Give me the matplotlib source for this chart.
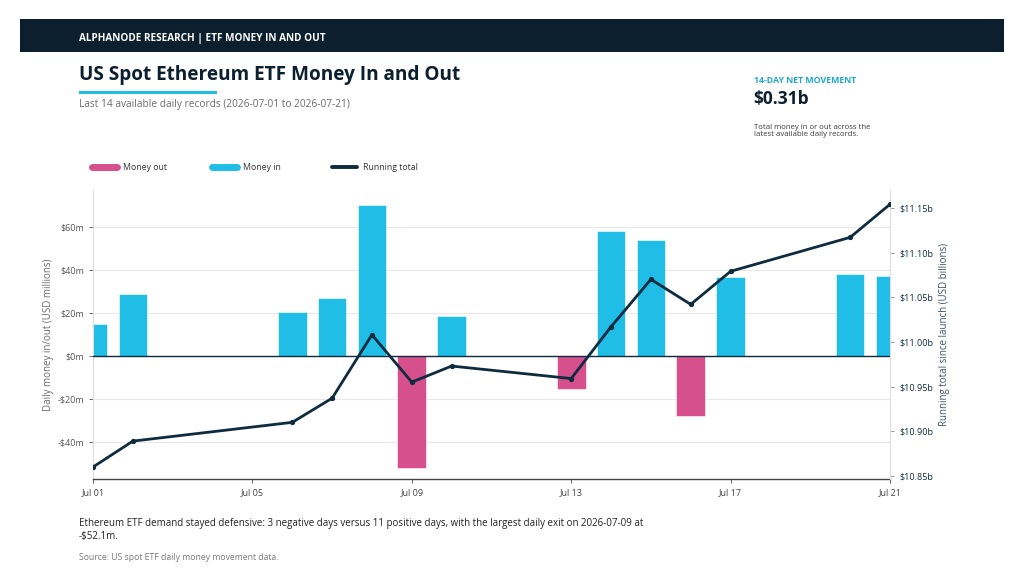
import matplotlib
matplotlib.use("Agg")
import matplotlib.pyplot as plt
import matplotlib.dates as mdates
import numpy as np
import pandas as pd
from matplotlib.patches import Rectangle
from matplotlib.lines import Line2D

plt.rcParams['font.family'] = ['Open Sans', 'DejaVu Sans']

dates = ["2026-07-01", "2026-07-02", "2026-07-06", "2026-07-07", "2026-07-08",
         "2026-07-09", "2026-07-10", "2026-07-13", "2026-07-14", "2026-07-15",
         "2026-07-16", "2026-07-17", "2026-07-20", "2026-07-21"]
flows_m = [14.9, 28.8, 20.5, 27.0, 70.2, -52.1, 18.6, -15.3, 58.1, 54.0,
           -27.9, 36.7, 38.1, 37.2]
running_total_b = [10.860, 10.889, 10.910, 10.937, 11.008, 10.955, 10.973,
                   10.959, 11.017, 11.070, 11.042, 11.079, 11.117, 11.154]
left_ticks = [-40, -20, 0, 20, 40, 60]
right_ticks = [10.85, 10.90, 10.95, 11.00, 11.05, 11.10, 11.15]
x_ticks = ["2026-07-01", "2026-07-05", "2026-07-09", "2026-07-13", "2026-07-17", "2026-07-21"]

CYAN = "#20BEE6"
PINK = "#D6508D"
NAVY = "#0E2B3F"
HEADER = "#0B1F2E"
GRAY = "#6B6B6B"

x = pd.to_datetime(dates)
xt = pd.to_datetime(x_ticks)
flows = np.array(flows_m)

fig = plt.figure(figsize=(10.24, 5.82), dpi=100)
fig.patch.set_facecolor("white")

# header bar
fig.patches.append(Rectangle((20/1024, 1-52/582), 984/1024, 33/582,
                             transform=fig.transFigure, facecolor=HEADER,
                             edgecolor="none", zorder=0))
fig.text(79/1024, 1-38/582, "ALPHANODE RESEARCH | ETF MONEY IN AND OUT",
         color="white", fontsize=7.2, fontweight="bold", va="center", ha="left")

fig.text(79/1024, 1-75/582, "US Spot Ethereum ETF Money In and Out",
         color=HEADER, fontsize=13.7, fontweight="bold", va="center", ha="left")
fig.patches.append(Rectangle((79/1024, 1-94/582), 138/1024, 3.5/582,
                             transform=fig.transFigure, facecolor=CYAN,
                             edgecolor="none"))
fig.text(79/1024, 1-104/582, "Last 14 available daily records (2026-07-01 to 2026-07-21)",
         color=GRAY, fontsize=7.3, va="center", ha="left")

fig.text(754/1024, 1-81/582, "14-DAY NET MOVEMENT", color="#1FA9CF",
         fontsize=6.3, fontweight="bold", va="center", ha="left")
fig.text(753/1024, 1-99/582, "$0.31b", color=HEADER, fontsize=12.5,
         fontweight="bold", va="center", ha="left")
fig.text(754/1024, 1-131/582,
         "Total money in or out across the\nlatest available daily records.",
         color="#3A3A3A", fontsize=5.6, va="center", ha="left", linespacing=1.1)

# legend
legend_items = [(92, PINK, "Money out"), (212, CYAN, "Money in"), (332, NAVY, "Running total")]
for lx, col, lab in legend_items:
    lw = 5 if col != NAVY else 2.8
    fig.add_artist(Line2D([lx/1024, (lx+25)/1024], [1-167/582, 1-167/582],
                          transform=fig.transFigure, color=col, lw=lw,
                          solid_capstyle="round"))
    fig.text((lx+31)/1024, 1-167/582, lab, color="#333333", fontsize=6.3,
             va="center", ha="left")

ax = fig.add_axes([93/1024, 1-479/582, 797/1024, 289/582])
colors = [CYAN if v >= 0 else PINK for v in flows]
ax.bar(x, flows, width=0.72, color=colors, edgecolor="white", linewidth=0.4, zorder=2)
ax.axhline(0, color=NAVY, lw=1.0, zorder=3)
ax.set_ylim(-52.1 * 1.1, 70.2 * 1.1)
ax.set_yticks(left_ticks)
ax.set_yticklabels([("-$%dm" % abs(v)) if v < 0 else ("$%dm" % v) for v in left_ticks])
ax.set_xlim(x[0], x[-1])
ax.set_xticks(xt)
ax.set_xticklabels([d.strftime("Jul %d") for d in xt])
ax.grid(axis="y", color="#E8E8E8", lw=0.8, zorder=0)
ax.set_axisbelow(True)
for s in ["top", "right"]:
    ax.spines[s].set_visible(False)
ax.spines["left"].set_color("#DDDDDD")
ax.spines["bottom"].set_color("#444444")
ax.spines["bottom"].set_linewidth(1.0)
ax.tick_params(axis="both", labelsize=6.5, colors="#555555", length=3, width=0.6)
ax.tick_params(axis="x", colors="#444444")
ax.set_ylabel("Daily money in/out (USD millions)", fontsize=7, color=GRAY, labelpad=2)

ax2 = ax.twinx()
ax2.plot(x, running_total_b, color=NAVY, lw=2.0, marker="o", markersize=2.8, zorder=5)
ax2.set_ylim(10.8466, 11.170)
ax2.set_yticks(right_ticks)
ax2.set_yticklabels(["$%.2fb" % v for v in right_ticks])
for s in ["top", "left", "bottom"]:
    ax2.spines[s].set_visible(False)
ax2.spines["right"].set_color("#DDDDDD")
ax2.tick_params(axis="y", labelsize=6.5, colors="#888888", labelcolor=NAVY, length=3, width=0.6)
ax2.set_ylabel("Running total since launch (USD billions)", fontsize=7, color="#3B5368", labelpad=4)
ax2.set_xlim(x[0], x[-1])

fig.text(79/1024, 1-530/582,
         "Ethereum ETF demand stayed defensive: 3 negative days versus 11 positive days, with the largest daily exit on 2026-07-09 at\n-$52.1m.",
         color="#222222", fontsize=7, va="center", ha="left", linespacing=1.3)
fig.text(79/1024, 1-557/582, "Source: US spot ETF daily money movement data.",
         color="#7A7A7A", fontsize=6.2, va="center", ha="left")

fig.savefig("out.png", dpi=100, facecolor="white")
